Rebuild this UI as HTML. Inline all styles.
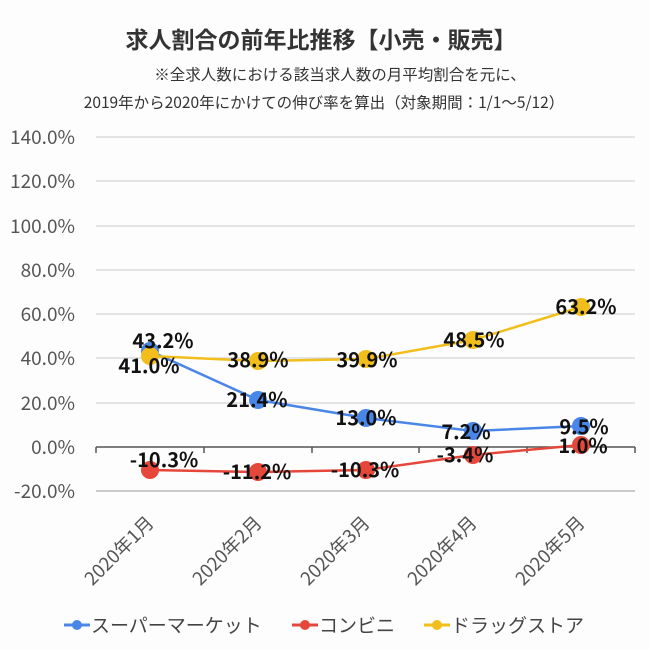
<!DOCTYPE html><html><head><meta charset="utf-8"><style>body{margin:0;background:#fff}svg{display:block}text{font-family:"Noto Sans CJK JP","Liberation Sans",sans-serif}</style></head><body>
<svg width="650" height="650" viewBox="0 0 650 650">
<rect width="650" height="650" fill="#fdfdfd"/>
<text x="321" y="48" text-anchor="middle" font-size="23" font-weight="bold" fill="#333">求人割合の前年比推移【小売・販売】</text>
<text x="340" y="80" text-anchor="middle" font-size="15.5" fill="#333">※全求人数における該当求人数の月平均割合を元に、</text>
<text x="324" y="108" text-anchor="middle" font-size="15.5" fill="#333">2019年から2020年にかけての伸び率を算出（対象期間：1/1〜5/12）</text>
<g stroke="#ccc" stroke-width="1">
<line x1="96" x2="635" y1="137" y2="137"/><line x1="96" x2="635" y1="181" y2="181"/><line x1="96" x2="635" y1="226" y2="226"/><line x1="96" x2="635" y1="270" y2="270"/><line x1="96" x2="635" y1="314" y2="314"/><line x1="96" x2="635" y1="358" y2="358"/><line x1="96" x2="635" y1="403" y2="403"/><line x1="96" x2="635" y1="491" y2="491" stroke="#999"/>
</g>
<g stroke="#555" stroke-width="1.5"><line x1="96" x2="635" y1="447" y2="447"/>
<line x1="96" x2="96" y1="447" y2="453"/><line x1="204" x2="204" y1="447" y2="453"/><line x1="312" x2="312" y1="447" y2="453"/><line x1="419" x2="419" y1="447" y2="453"/><line x1="527" x2="527" y1="447" y2="453"/><line x1="635" x2="635" y1="447" y2="453"/></g>
<g font-size="19" fill="#555" text-anchor="end">
<text x="75" y="144">140.0%</text><text x="75" y="188">120.0%</text><text x="75" y="233">100.0%</text><text x="75" y="277">80.0%</text><text x="75" y="321">60.0%</text><text x="75" y="365">40.0%</text><text x="75" y="410">20.0%</text><text x="75" y="454">0.0%</text><text x="75" y="498">-20.0%</text>
</g>
<g font-size="18.5" fill="#555" text-anchor="end">
<text transform="translate(155,524) rotate(-45)">2020年1月</text>
<text transform="translate(263,524) rotate(-45)">2020年2月</text>
<text transform="translate(371,524) rotate(-45)">2020年3月</text>
<text transform="translate(478,524) rotate(-45)">2020年4月</text>
<text transform="translate(586,524) rotate(-45)">2020年5月</text>
</g>
<g stroke-width="2.5" fill="none">
<polyline stroke="#4a86e8" points="150,351 258,400 366,418 473,431 581,426"/>
<polyline stroke="#e5483a" points="150,470 258,472 366,470 473,455 581,445"/>
<polyline stroke="#f1be1b" points="150,356 258,361 366,359 473,340 581,307"/>
</g>
<g fill="#4a86e8"><circle cx="150" cy="351" r="9"/><circle cx="258" cy="400" r="9"/><circle cx="366" cy="418" r="9"/><circle cx="473" cy="431" r="9"/><circle cx="581" cy="426" r="9"/></g>
<g fill="#e5483a"><circle cx="150" cy="470" r="9"/><circle cx="258" cy="472" r="9"/><circle cx="366" cy="470" r="9"/><circle cx="473" cy="455" r="9"/><circle cx="581" cy="445" r="9"/></g>
<g fill="#f1be1b"><circle cx="150" cy="356" r="9"/><circle cx="258" cy="361" r="9"/><circle cx="366" cy="359" r="9"/><circle cx="473" cy="340" r="9"/><circle cx="581" cy="307" r="9"/></g>
<g font-size="20" font-weight="bold" fill="#111" text-anchor="middle">
<text x="163" y="348">43.2%</text><text x="149" y="373">41.0%</text>
<text x="258" y="367">38.9%</text><text x="367" y="367">39.9%</text><text x="474" y="347">48.5%</text><text x="586" y="314">63.2%</text>
<text x="257" y="407">21.4%</text><text x="366" y="425">13.0%</text><text x="466" y="439">7.2%</text><text x="584" y="434">9.5%</text>
<text x="164" y="467">-10.3%</text><text x="257" y="479">-11.2%</text><text x="365" y="477">-10.3%</text><text x="465" y="462">-3.4%</text><text x="583" y="453">1.0%</text>
</g>
<g font-size="19" fill="#444">
<line x1="64" x2="90" y1="625" y2="625" stroke="#4a86e8" stroke-width="3"/><circle cx="77" cy="625" r="5" fill="#4a86e8"/><text x="91" y="632">スーパーマーケット</text>
<line x1="292" x2="318" y1="625" y2="625" stroke="#e5483a" stroke-width="3"/><circle cx="305" cy="625" r="5" fill="#e5483a"/><text x="319" y="632">コンビニ</text>
<line x1="424" x2="450" y1="625" y2="625" stroke="#f1be1b" stroke-width="3"/><circle cx="437" cy="625" r="5" fill="#f1be1b"/><text x="451" y="632">ドラッグストア</text>
</g>
</svg></body></html>
